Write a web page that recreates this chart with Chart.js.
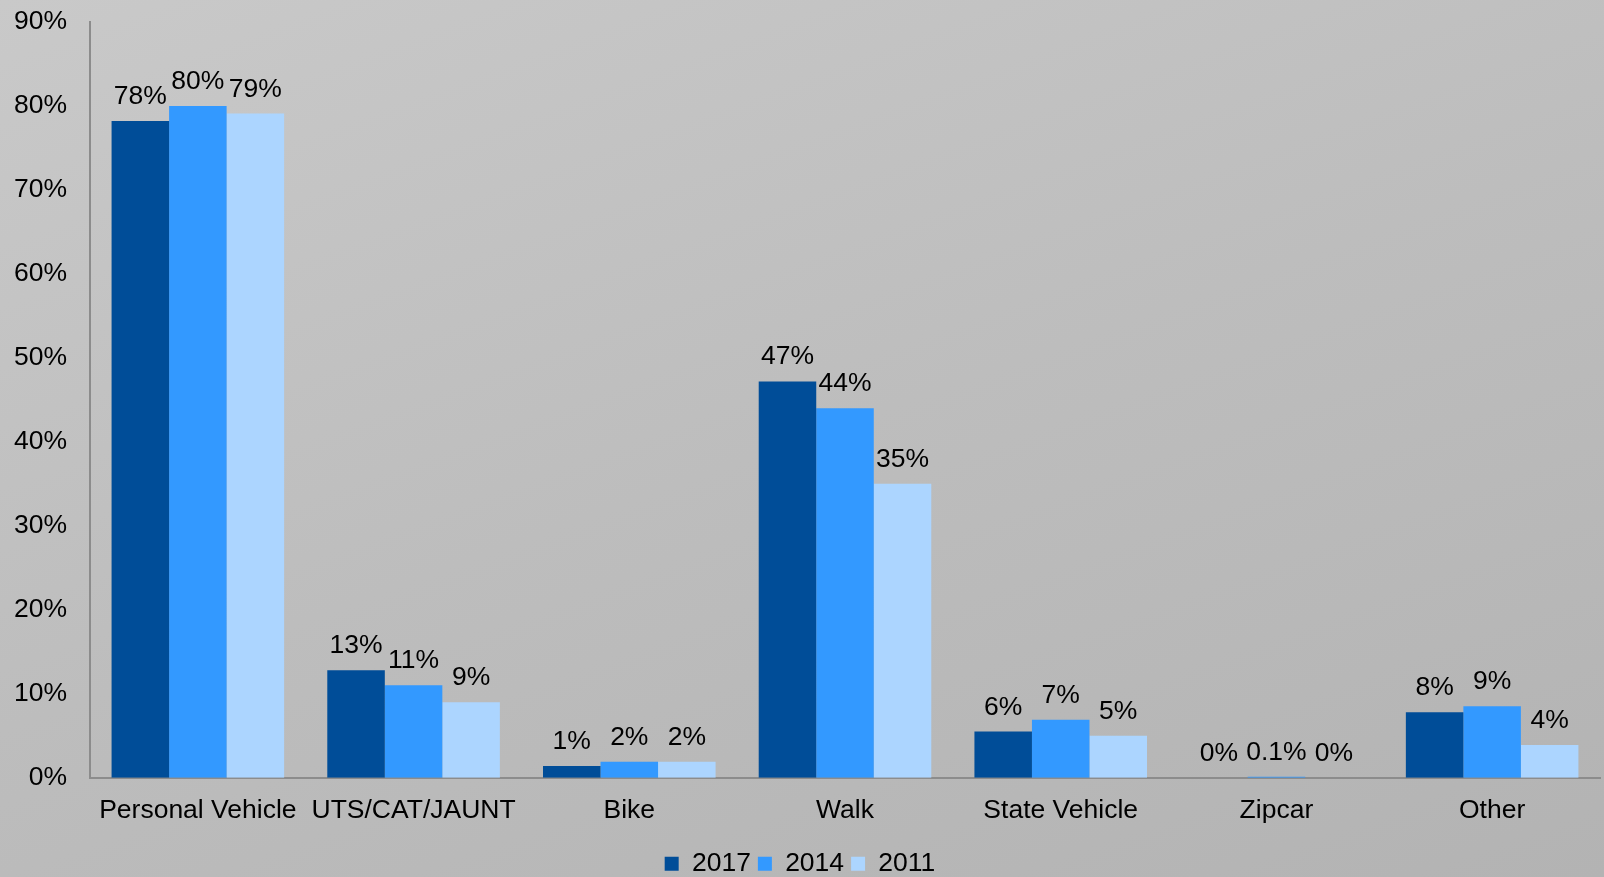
<!DOCTYPE html>
<html lang="en">
<head>
    <meta charset="UTF-8">
    <title>Travel mode by year</title>
    <script src="https://cdn.jsdelivr.net/npm/chart.js"></script>
    <style>
        html, body {
            margin: 0;
            padding: 0;
        }

        body {
            width: 1604px;
            height: 877px;
            background: linear-gradient(160deg, #c9c9c9 0%, #bdbdbd 50%, #b3b3b3 100%);
            overflow: hidden;
        }

        .chart-box {
            position: relative;
            width: 1604px;
            height: 877px;
        }
    </style>
</head>
<body>
    <div class="chart-box">
        <canvas id="modeChart"></canvas>
    </div>

    <script>
        // categories and values (percent)
        const categories = ['Personal Vehicle', 'UTS/CAT/JAUNT', 'Bike', 'Walk', 'State Vehicle', 'Zipcar', 'Other'];
        const years = ['2017', '2014', '2011'];
        const values2017 = [78.2, 12.8, 1.4, 47.2, 5.5, 0, 7.8];
        const values2014 = [80.0, 11.0, 1.9, 44.0, 6.9, 0.1, 8.5];
        const values2011 = [79.1, 9.0, 1.9, 35.0, 5.0, 0, 3.9];
        const yTicks = [0, 10, 20, 30, 40, 50, 60, 70, 80, 90];

        const colors = ['#004d98', '#3399ff', '#acd5ff'];
        const fontFamily = '"Liberation Sans", Arial, sans-serif';
        const fontSize = 26.5;

        function pctLabel(v) {
            if (v > 0 && v < 1) return v.toFixed(1) + '%';
            return Math.round(v) + '%';
        }

        // draws the value above each bar
        const barLabels = {
            id: 'barLabels',
            afterDatasetsDraw(chart) {
                const ctx = chart.ctx;
                ctx.save();
                ctx.font = fontSize + 'px ' + fontFamily;
                ctx.fillStyle = '#000';
                ctx.textAlign = 'center';
                ctx.textBaseline = 'alphabetic';
                chart.data.datasets.forEach((ds, i) => {
                    const meta = chart.getDatasetMeta(i);
                    meta.data.forEach((bar, j) => {
                        ctx.fillText(pctLabel(ds.data[j]), bar.x, bar.y - 17);
                    });
                });
                ctx.restore();
            }
        };

        const ctx = document.getElementById('modeChart').getContext('2d');
        new Chart(ctx, {
            type: 'bar',
            data: {
                labels: categories,
                datasets: [
                    { label: years[0], data: values2017, backgroundColor: colors[0] },
                    { label: years[1], data: values2014, backgroundColor: colors[1] },
                    { label: years[2], data: values2011, backgroundColor: colors[2] }
                ]
            },
            options: {
                responsive: true,
                maintainAspectRatio: false,
                animation: false,
                datasets: {
                    bar: {
                        categoryPercentage: 0.8,
                        barPercentage: 1.0
                    }
                },
                layout: {
                    padding: { top: 22, right: 4, bottom: -10, left: 0 }
                },
                plugins: {
                    tooltip: { enabled: false },
                    legend: {
                        position: 'bottom',
                        labels: {
                            color: '#000',
                            font: { family: fontFamily, size: fontSize },
                            boxWidth: 14,
                            boxHeight: 14,
                            padding: 7
                        }
                    }
                },
                scales: {
                    x: {
                        grid: { display: false, drawTicks: false },
                        border: { display: true, color: '#8c8c8c', width: 2 },
                        ticks: {
                            color: '#000',
                            font: { family: fontFamily, size: fontSize },
                            padding: 17,
                            maxRotation: 0,
                            autoSkip: false
                        }
                    },
                    y: {
                        min: 0,
                        max: 90,
                        afterBuildTicks(axis) {
                            axis.ticks = yTicks.map(v => ({ value: v }));
                        },
                        afterFit(axis) {
                            axis.width = 90;
                            axis.paddingTop = 0;
                            axis.paddingBottom = 0;
                        },
                        grid: { display: false, drawTicks: false },
                        border: { display: true, color: '#8c8c8c', width: 2 },
                        ticks: {
                            color: '#000',
                            font: { family: fontFamily, size: fontSize },
                            padding: 23,
                            callback: v => v + '%'
                        }
                    }
                }
            },
            plugins: [barLabels]
        });
    </script>
</body>
</html>
